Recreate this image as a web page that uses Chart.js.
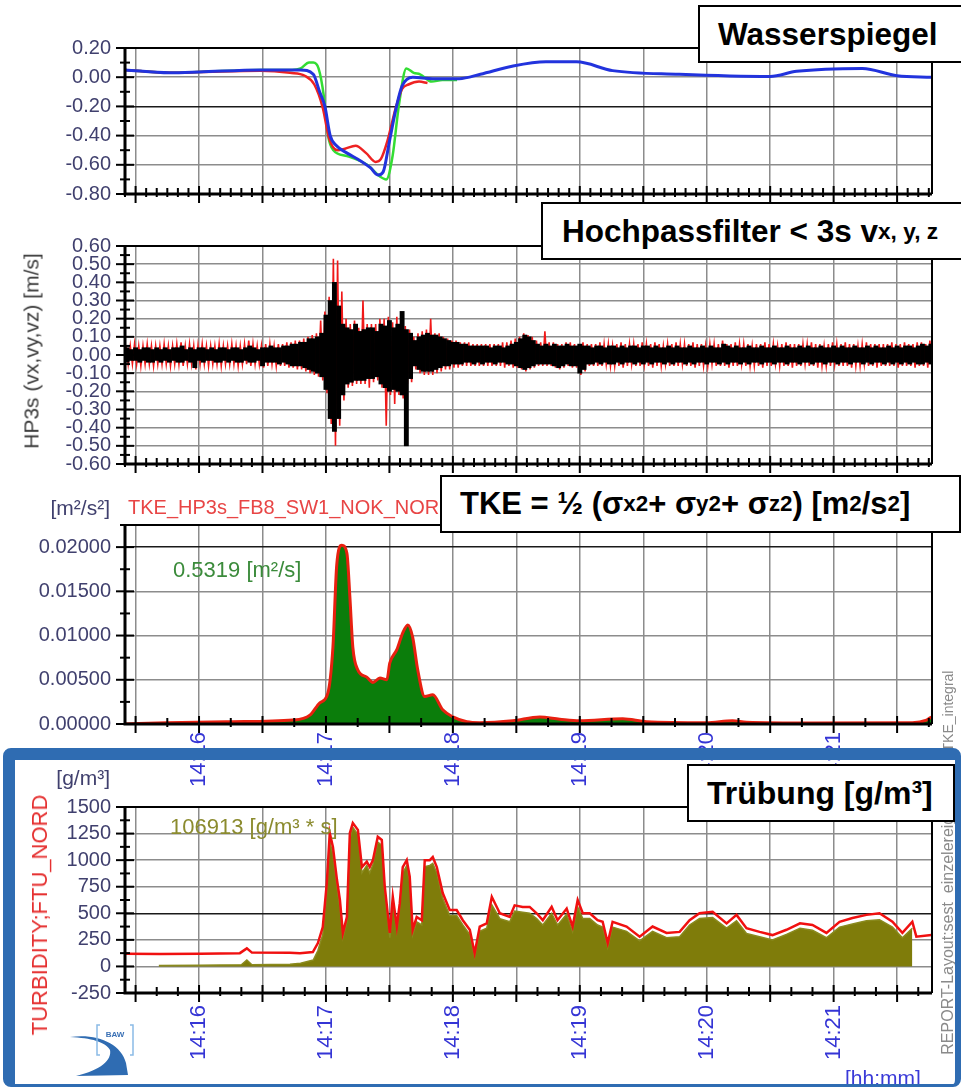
<!DOCTYPE html>
<html>
<head>
<meta charset="utf-8">
<script src="https://cdn.jsdelivr.net/npm/chart.js@4.4.1/dist/chart.umd.min.js"></script>
<style>
  html, body { margin: 0; padding: 0; background: #fff; }
  body { width: 961px; height: 1087px; position: relative; overflow: hidden; font-family: 'Liberation Sans', Arial, sans-serif; }
  canvas { position: absolute; left: 0; }
  .lbl { position: absolute; line-height: 1; white-space: nowrap; z-index: 2; }
  .rot { position: absolute; line-height: 1; white-space: nowrap; transform: translate(-50%, -50%) rotate(-90deg); z-index: 1; }
  .box { position: absolute; box-sizing: border-box; border: 2px solid #000; background: #fff; color: #000;
         font-weight: bold; font-size: 31.5px; display: flex; align-items: center; white-space: nowrap; z-index: 5; }
  .box sub, .box sup { font-size: 0.72em; line-height: 0; }
  #frame { position: absolute; left: 3px; top: 748px; width: 958px; height: 339px; box-sizing: border-box;
           border-style: solid; border-color: #2f6cb2; border-width: 12px 6px 3px 12px; border-radius: 8px; z-index: 3; }
</style>
</head>
<body>
<canvas id="cWs" width="961" height="220" style="top:0px"></canvas>
<canvas id="cHp" width="961" height="270" style="top:220px"></canvas>
<canvas id="cTke" width="961" height="310" style="top:490px"></canvas>
<canvas id="cTurb" width="961" height="327" style="top:760px"></canvas>

<div class="rot" style="left:31px; top:351px; font-size:21px; color:#3a3a3a;">HP3s (vx,vy,vz) [m/s]</div>
<div class="lbl" style="left:0; width:110px; text-align:right; top:497px; font-size:21px; color:#40406e;">[m²/s²]</div>
<div class="lbl" style="left:128px; top:497px; font-size:20px; color:#e84545;">TKE_HP3s_FB8_SW1_NOK_NORD</div>
<div class="lbl" style="left:173px; top:559px; font-size:22px; color:#3b8b3b;">0.5319 [m²/s]</div>
<div class="rot" style="left:948px; top:711px; font-size:14px; color:#8a8a8a;">TKE_integral</div>

<div class="lbl" style="left:0; width:110px; text-align:right; top:767px; font-size:21px; color:#40406e;">[g/m³]</div>
<div class="lbl" style="left:170px; top:816px; font-size:22px; color:#8b8b2e;">106913 [g/m³ * s]</div>
<div class="rot" style="left:40px; top:915px; font-size:22px; color:#e53030;">TURBIDITY;FTU_NORD</div>
<div class="rot" style="left:948px; top:925px; font-size:16px; color:#8a8a8a;">REPORT-Layout:sest_einzelereignis</div>
<div class="lbl" style="left:845px; top:1067px; font-size:21px; color:#3a3ad8; z-index:1;">[hh:mm]</div>

<div id="frame"></div>

<div class="box" style="left:698px; top:5px; width:280px; height:58px; padding-left:18px;">Wasserspiegel</div>
<div class="box" style="left:541px; top:202px; width:440px; height:58px; padding-left:19px;">Hochpassfilter &lt; 3s v<sub>x, y, z</sub></div>
<div class="box" style="left:440px; top:475px; width:521px; height:58px; padding-left:18px; font-size:31px;">TKE = ½ (σ<sub>x</sub><sup>2</sup> + σ<sub>y</sub><sup>2</sup> + σ<sub>z</sub><sup>2</sup>) [m<sup>2</sup>/s<sup>2</sup>]</div>
<div class="box" style="left:687px; top:764px; width:268px; height:58px; padding-left:18px; font-size:32px;">Trübung [g/m³]</div>

<svg width="72" height="62" viewBox="0 0 72 62" style="position:absolute; left:66px; top:1018px; z-index:4;">
  <path d="M4,19 C30,15 55,25 60,45 L62,57 L10,58 C35,52 46,42 44,32 C40,24 25,20 4,19 Z" fill="#2f6cb2"/>
  <path d="M34,7 L31,7 L31,37 L34,37 M64,7 L67,7 L67,37 L64,37" stroke="#8bbbe6" stroke-width="1.5" fill="none"/>
  <text x="49" y="19" font-size="8" font-weight="bold" fill="#3a70b5" text-anchor="middle">BAW</text>
</svg>

<script>
// time axis: seconds after 14:15:00
const tMin = 25, tMax = 406.5;
const gridTimes = [30, 60, 90, 120, 150, 180, 210, 240, 270, 300, 330, 360, 390];
const tickTimes = [60, 120, 180, 240, 300, 360];
const tickLabels = ['14:16', '14:17', '14:18', '14:19', '14:20', '14:21'];

// Wasserspiegel [m]
const wsTicks = [-0.8, -0.6, -0.4, -0.2, 0, 0.2];
const wsBlueT = [25, 46, 60, 89, 108, 114, 117, 119.5, 122, 125, 130, 136, 141, 144.5, 147, 150, 153.5, 156, 161, 170.5, 183, 193, 208, 224, 238.5, 255.5, 287, 330, 342.5, 373.6, 390, 406.2];
const wsBlueV = [0.05, 0.03, 0.035, 0.05, 0.05, 0.02, -0.1, -0.2, -0.4, -0.47, -0.52, -0.57, -0.62, -0.67, -0.65, -0.44, -0.19, -0.06, 0, -0.01, -0.01, 0.02, 0.075, 0.105, 0.105, 0.045, 0.02, 0.005, 0.04, 0.06, 0.01, 0];
const wsGreenT = [25, 46, 60, 89, 104, 108, 112, 114, 116.5, 119, 121, 123.5, 130, 139.5, 145.5, 148.5, 151.5, 154.5, 158, 161.5, 164.5, 170, 175, 182];
const wsGreenV = [0.05, 0.03, 0.035, 0.05, 0.05, 0.06, 0.1, 0.1, 0.06, -0.13, -0.4, -0.5, -0.54, -0.6, -0.68, -0.7, -0.54, -0.19, 0.06, 0.03, 0.02, -0.03, -0.02, -0.02];
const wsRedT = [25, 46, 60, 89, 103, 110, 114.5, 118.5, 121.5, 125.5, 129, 134, 139, 143.5, 146, 149, 153, 156, 159, 164, 168];
const wsRedV = [0.05, 0.03, 0.035, 0.045, 0.03, 0.01, -0.05, -0.21, -0.42, -0.5, -0.49, -0.47, -0.52, -0.58, -0.56, -0.44, -0.21, -0.08, -0.05, -0.03, -0.04];

// HP3s velocity envelope [cm/s], one max/min pair per 2 s bin from hpStart
const hpStart = 25, hpStep = 2;
const hpTicks = [-0.6, -0.5, -0.4, -0.3, -0.2, -0.1, 0, 0.1, 0.2, 0.3, 0.4, 0.5, 0.6];
const hpBlackHi = [
  4,3,4,3,4,4,3,4,3,4, 3,4,4,5,3,4,3,4,4,3, 4,3,4,4,3,4,4,3,4,5, 4,3,4,4,5,4,4,5,5,6,
  6,7,7,9,9,10,12,22,30,40, 27,17,15,14,17,13,14,15,15,13, 17,16,19,15,17,24,14,12,8,10,
  11,12,11,11,10,9,8,7,7,6, 6,5,5,5,5,5,4,5,5,4, 5,6,7,9,11,10,8,6,5,6,
  5,6,5,5,6,5,5,6,5,5, 4,5,5,4,5,5,4,5,4,5, 5,4,5,5,4,5,4,4,5,4,
  5,4,4,5,4,4,5,4,5,4, 4,6,5,4,5,4,4,5,4,4, 5,4,4,5,4,4,5,4,4,5,
  4,5,4,4,5,4,4,5,4,5, 4,4,5,4,4,5,4,5,4,4, 5,4,5,4,5,5,4,5,6,5, 6];
const hpBlackLo = [
  -4,-3,-3,-4,-3,-4,-4,-3,-4,-3, -4,-3,-4,-4,-3,-4,-7,-3,-4,-3, -3,-4,-4,-3,-4,-3,-4,-4,-3,-4, -4,-3,-6,-4,-4,-4,-5,-4,-5,-6,
  -6,-6,-7,-8,-9,-10,-12,-19,-35,-42, -35,-22,-16,-15,-14,-14,-14,-13,-13,-12, -16,-18,-20,-19,-20,-22,-50,-13,-6,-8,
  -9,-9,-9,-8,-7,-6,-6,-5,-5,-5, -4,-4,-5,-4,-5,-4,-4,-5,-4,-4, -5,-5,-6,-7,-8,-7,-6,-5,-5,-5,
  -5,-6,-7,-6,-5,-6,-6,-10,-8,-5, -5,-4,-5,-4,-5,-5,-4,-5,-4,-4, -5,-4,-5,-4,-5,-4,-4,-5,-4,-5,
  -4,-4,-5,-4,-5,-4,-4,-5,-4,-4, -5,-4,-5,-4,-4,-5,-4,-5,-4,-4, -5,-4,-4,-5,-4,-4,-5,-4,-4,-5,
  -4,-4,-5,-4,-4,-5,-4,-4,-5,-4, -4,-5,-4,-4,-5,-4,-5,-4,-4,-5, -4,-5,-4,-5,-4,-5,-4,-5,-5,-4, -5];
const hpRedHi = [
  5,5,6,5,5,6,5,5,5,6, 5,5,6,7,5,6,5,5,6,5, 5,5,6,5,5,6,5,5,6,8, 6,5,5,6,6,5,6,6,7,7,
  8,8,9,10,11,12,19,24,32,53, 52,35,20,17,19,15,30,17,17,17, 20,20,21,18,21,22,16,14,10,12,
  13,14,20,12,12,10,9,8,8,7, 7,7,6,6,6,6,6,6,6,7, 7,8,9,10,12,11,10,8,7,13,
  7,7,6,6,7,7,6,6,7,6, 6,6,7,6,6,5,6,7,6,6, 6,6,7,6,6,7,6,5,6,6,
  7,6,6,6,7,6,6,5,6,6, 6,8,6,6,7,6,6,6,5,6, 6,7,6,6,5,6,7,6,6,6,
  6,6,7,6,6,5,6,7,6,6, 7,6,6,5,6,7,6,6,6,6, 6,7,6,6,7,6,6,7,7,6, 8];
const hpRedLo = [
  -5,-5,-5,-6,-5,-5,-6,-5,-5,-5, -6,-5,-5,-6,-5,-5,-8,-5,-5,-6, -5,-5,-6,-5,-5,-5,-6,-5,-5,-6, -5,-5,-7,-6,-5,-6,-6,-6,-7,-7,
  -8,-8,-9,-10,-11,-12,-14,-21,-38,-50, -39,-25,-18,-17,-16,-16,-16,-18,-15,-14, -18,-39,-22,-27,-22,-24,-16,-15,-8,-10,
  -11,-11,-11,-10,-9,-8,-8,-7,-7,-6, -6,-6,-6,-6,-6,-6,-6,-6,-6,-7, -6,-7,-7,-8,-9,-8,-7,-6,-6,-6,
  -6,-7,-8,-7,-6,-7,-7,-11,-9,-6, -6,-6,-6,-5,-6,-6,-6,-7,-6,-5, -6,-6,-5,-6,-7,-6,-6,-5,-6,-6,
  -6,-5,-6,-6,-7,-6,-6,-6,-5,-6, -6,-6,-7,-6,-6,-5,-6,-6,-6,-6, -7,-6,-6,-5,-6,-6,-6,-7,-6,-6,
  -5,-6,-6,-7,-6,-6,-6,-5,-6,-6, -6,-7,-6,-6,-5,-6,-6,-7,-6,-6, -6,-6,-7,-6,-6,-6,-7,-6,-6,-7, -7];

// TKE [m²/s²]
const tkeTicks = [0, 0.005, 0.01, 0.015, 0.02];
const tkeT = [25, 44.8, 76, 104.4, 112.4, 117.1, 120.9, 123.3, 125.1, 127.5, 129.9, 131.3, 132.7, 135.1, 139.3, 142.2, 145.5, 148.8, 150.2, 153.5, 156.3, 158.7, 161, 163.4, 166.7, 170.5, 175.2, 180, 186.6, 192.7, 208.3, 221, 230.5, 239.9, 260.3, 271.6, 299.9, 312.2, 318.8, 350, 397.2, 403.9, 406.2];
const tkeV = [0, 0.00015, 0.00026, 0.00045, 0.001, 0.0024, 0.0035, 0.0087, 0.018, 0.0202, 0.0193, 0.0144, 0.0087, 0.0061, 0.0053, 0.0047, 0.0052, 0.005, 0.0069, 0.0084, 0.0103, 0.0112, 0.0098, 0.0061, 0.0031, 0.0033, 0.0016, 0.0008, 0.00025, 0.00015, 0.00037, 0.0008, 0.00055, 0.00037, 0.0006, 0.00026, 0.00015, 0.00037, 0.0002, 0.00011, 0.00015, 0.00045, 0.0008];

// Trübung [g/m³]
const turbTicks = [-250, 0, 250, 500, 750, 1000, 1250, 1500];
const turbRedT = [25, 41.5, 60.4, 79.3, 82.6, 85, 102.9, 107.7, 113.8, 116.2, 118.5, 120.4, 121.8, 123.3, 125.2, 126.6, 128, 129.9, 131.3, 132.7, 135.1, 137, 139.3, 140.7, 142.2, 144.5, 146.4, 147.8, 150.2, 151.6, 153.5, 154.9, 156.3, 158.2, 159.6, 161, 162.9, 165.3, 166.7, 169.1, 170.5, 172.4, 175.2, 178.5, 181.8, 184.7, 188, 190.3, 192.7, 196, 198.4, 202.2, 206.9, 209.2, 213, 216.3, 219.6, 222.5, 226.7, 229.5, 233.8, 236.6, 239, 241.4, 244.7, 248.4, 250.8, 253.2, 255.5, 262.1, 268.3, 274.4, 281, 287.2, 291.9, 296.6, 302.8, 309.4, 314.1, 318.8, 325, 331.1, 337.7, 344.1, 350, 356.6, 362.8, 368.9, 375.5, 381.7, 387.8, 392.5, 397.2, 399.1, 406.2];
const turbRedV = [120, 118, 120, 125, 170, 130, 128, 125, 135, 220, 370, 785, 1255, 1125, 815, 625, 315, 465, 1255, 1350, 1285, 935, 985, 935, 1000, 1220, 1190, 750, 315, 655, 375, 595, 935, 1000, 845, 345, 465, 435, 1000, 1000, 1030, 935, 690, 530, 530, 435, 345, 125, 375, 405, 655, 500, 465, 575, 560, 560, 500, 435, 560, 435, 545, 375, 625, 500, 500, 435, 420, 220, 420, 375, 280, 375, 315, 325, 435, 500, 515, 405, 485, 360, 325, 295, 345, 405, 390, 315, 420, 455, 485, 500, 420, 315, 420, 280, 295];
const turbOliveT = [41, 60, 80, 82.6, 85, 103, 108, 114, 116.2, 118.5, 120.4, 121.8, 123.3, 125.2, 126.6, 128, 129.9, 131.3, 132.7, 135.1, 137, 139.3, 140.7, 142.2, 144.5, 146.4, 147.8, 150.2, 151.6, 153.5, 154.9, 156.3, 158.2, 159.6, 161, 162.9, 165.3, 166.7, 169.1, 170.5, 172.4, 175.2, 178.5, 181.8, 184.7, 188, 190.3, 192.7, 196, 198.4, 202.2, 206.9, 209.2, 213, 216.3, 219.6, 222.5, 226.7, 229.5, 233.8, 236.6, 239, 241.4, 244.7, 248.4, 250.8, 253.2, 255.5, 262.1, 268.3, 274.4, 281, 287.2, 291.9, 296.6, 302.8, 309.4, 314.1, 318.8, 325, 331.1, 337.7, 344.1, 350, 356.6, 362.8, 368.9, 375.5, 381.7, 387.8, 392.5, 397.2];
const turbOliveV = [8, 10, 15, 60, 15, 20, 30, 60, 150, 300, 700, 1180, 1050, 750, 560, 270, 420, 1200, 1310, 1240, 880, 950, 880, 960, 1170, 1140, 690, 270, 600, 330, 550, 880, 950, 790, 300, 420, 390, 940, 950, 970, 880, 640, 480, 480, 390, 300, 90, 330, 360, 580, 450, 420, 520, 510, 500, 450, 390, 500, 390, 490, 330, 560, 450, 450, 390, 370, 180, 370, 330, 240, 330, 270, 280, 390, 450, 460, 360, 430, 310, 280, 250, 300, 360, 340, 270, 370, 400, 430, 440, 370, 270, 360];

Chart.defaults.font.family = "'Liberation Sans', Arial, sans-serif";

function pts(ts, vs) {
  return ts.map((t, i) => ({ x: t, y: vs[i] }));
}

// one floating bar [min, max] per 2 s bin
function envelope(hi, lo) {
  return hi.map((h, i) => ({ x: hpStart + i * hpStep + hpStep / 2, y: [lo[i] / 100, h / 100] }));
}

// max then min of each bin as a thin trace
function zigzag(hi, lo) {
  const out = [];
  hi.forEach((h, i) => {
    const t = hpStart + i * hpStep;
    out.push({ x: t + 0.5, y: h / 100 }, { x: t + 1.5, y: lo[i] / 100 });
  });
  return out;
}

// frame, axis lines and the small tick marks of the old plotting tool
const frameMarks = {
  id: 'frameMarks',
  afterDatasetsDraw(chart, args, o) {
    const { ctx, chartArea: a, scales: { x, y } } = chart;
    ctx.save();
    ctx.strokeStyle = '#000';
    ctx.lineWidth = 2;
    for (let k = Math.ceil(x.min / o.xMinor); k * o.xMinor <= x.max; k++) {
      const v = k * o.xMinor, px = x.getPixelForValue(v), major = v % 30 === 0;
      ctx.beginPath();
      ctx.moveTo(px, a.bottom - (major ? 8 : 6));
      ctx.lineTo(px, a.bottom + (major ? 9 : 3));
      ctx.stroke();
    }
    const k0 = Math.ceil(y.min / o.yMinor - 1e-6), k1 = Math.floor(y.max / o.yMinor + 1e-6);
    for (let k = k0; k <= k1; k++) {
      const v = k * o.yMinor, py = y.getPixelForValue(v), r = v / o.yMajor;
      const major = Math.abs(r - Math.round(r)) < 1e-6;
      ctx.beginPath();
      ctx.moveTo(a.left - (major ? 9 : 5), py);
      ctx.lineTo(a.left + (major ? 9 : 5), py);
      ctx.stroke();
    }
    ctx.lineWidth = 2;
    ctx.beginPath();
    ctx.moveTo(a.left, a.top); ctx.lineTo(a.right, a.top); ctx.lineTo(a.right, a.bottom);
    ctx.stroke();
    ctx.lineWidth = 3;
    ctx.beginPath();
    ctx.moveTo(a.left, a.top - 1); ctx.lineTo(a.left, a.bottom); ctx.lineTo(a.right, a.bottom);
    ctx.stroke();
    ctx.restore();
  }
};
Chart.register(frameMarks);

function panelOptions(p) {
  return {
    responsive: false,
    animation: false,
    events: [],
    layout: { padding: { top: p.padTop, right: 29, left: 0, bottom: 0 } },
    plugins: {
      legend: { display: false },
      tooltip: { enabled: false },
      frameMarks: { xMinor: p.xMinor, yMinor: p.yMinor, yMajor: p.yMajor }
    },
    elements: { point: { radius: 0 } },
    scales: {
      x: {
        type: 'linear', min: tMin, max: tMax, offset: false,
        afterBuildTicks: s => { s.ticks = gridTimes.map(v => ({ value: v })); },
        afterFit: s => { s.height = p.xHeight; },
        grid: { color: '#8c8c8c', lineWidth: 1.5, drawTicks: false, offset: false },
        border: { display: false },
        ticks: {
          display: p.xLabels, autoSkip: false, minRotation: 90, maxRotation: 90,
          padding: p.xPad || 8, color: '#3535d5', font: { size: 22 },
          callback: v => { const i = tickTimes.indexOf(v); return i < 0 ? '' : tickLabels[i]; }
        }
      },
      y: {
        type: 'linear', min: p.yMin, max: p.yMax,
        afterBuildTicks: s => { s.ticks = p.yTicks.map(v => ({ value: v })); },
        afterFit: s => { s.width = 125; },
        grid: {
          color: c => (c.tick && p.darkY.includes(c.tick.value)) ? '#1a1a1a' : '#8c8c8c',
          lineWidth: 1.5, drawTicks: false
        },
        border: { display: false },
        ticks: { autoSkip: false, padding: 14, color: '#40406e', font: { size: 20 }, callback: p.yFmt }
      }
    }
  };
}

new Chart(document.getElementById('cWs'), {
  type: 'line',
  data: {
    datasets: [
      { data: pts(wsBlueT, wsBlueV), borderColor: '#2233dd', borderWidth: 3, cubicInterpolationMode: 'monotone' },
      { data: pts(wsRedT, wsRedV), borderColor: '#ee2222', borderWidth: 2.5, cubicInterpolationMode: 'monotone' },
      { data: pts(wsGreenT, wsGreenV), borderColor: '#33dd33', borderWidth: 2.5, cubicInterpolationMode: 'monotone' }
    ]
  },
  options: panelOptions({
    padTop: 48, xHeight: 12, xLabels: false, xMinor: 5,
    yMin: -0.8, yMax: 0.2, yTicks: wsTicks, yMinor: 0.1, yMajor: 0.2, darkY: [-0.2],
    yFmt: v => v.toFixed(2)
  })
});

const hpOptions = panelOptions({
  padTop: 15, xHeight: 12, xLabels: false, xMinor: 5,
  yMin: -0.6, yMax: 0.6, yTicks: hpTicks, yMinor: 0.05, yMajor: 0.1, darkY: [],
  yFmt: v => v.toFixed(2)
});
new Chart(document.getElementById('cHp'), {
  type: 'bar',
  data: {
    datasets: [
      { data: envelope(hpBlackHi, hpBlackLo), backgroundColor: '#000', grouped: false,
        barPercentage: 1, categoryPercentage: 1 },
      { type: 'line', data: zigzag(hpRedHi, hpRedLo), borderColor: '#f01818', borderWidth: 1.6 }
    ]
  },
  options: hpOptions
});

new Chart(document.getElementById('cTke'), {
  type: 'line',
  data: {
    datasets: [
      { data: pts(tkeT, tkeV), borderColor: '#e82010', borderWidth: 3, backgroundColor: '#0b7d0b',
        fill: 'origin', cubicInterpolationMode: 'monotone' }
    ]
  },
  options: panelOptions({
    padTop: 35, xHeight: 76, xLabels: true, xPad: 8, xMinor: 15,
    yMin: 0, yMax: 0.0225, yTicks: tkeTicks, yMinor: 0.0025, yMajor: 0.005, darkY: [0.02],
    yFmt: v => v.toFixed(5)
  })
});

new Chart(document.getElementById('cTurb'), {
  type: 'line',
  data: {
    datasets: [
      { data: pts(turbRedT, turbRedV), borderColor: '#f01010', borderWidth: 2.5 },
      { data: pts(turbOliveT, turbOliveV), borderColor: '#8a8a1e', borderWidth: 1.5,
        backgroundColor: '#7f7c0a', fill: 'origin' }
    ]
  },
  options: panelOptions({
    padTop: 47, xHeight: 94, xLabels: true, xPad: 12, xMinor: 10,
    yMin: -250, yMax: 1500, yTicks: turbTicks, yMinor: 125, yMajor: 250, darkY: [500],
    yFmt: v => String(v)
  })
});
</script>
</body>
</html>
